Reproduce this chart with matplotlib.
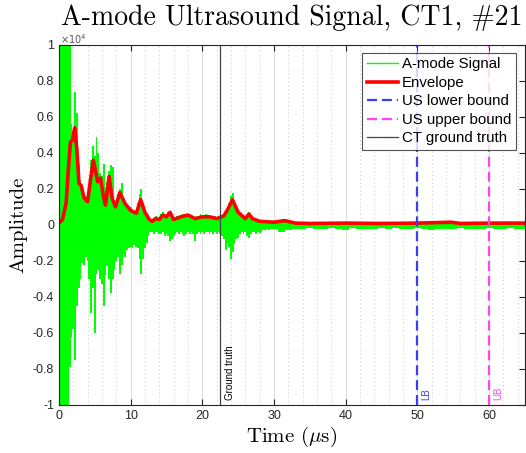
import numpy as np
import matplotlib
matplotlib.use("Agg")
import matplotlib.pyplot as plt

plt.rcParams['mathtext.fontset'] = 'cm'
plt.rcParams['font.family'] = ['Liberation Sans', 'DejaVu Sans']

# A-mode signal, upper / lower extents of the trace (x1e4)
# early part: every 0.25 us from 0 to 30 us
sig_up_early = [
    0.05, 1.2, 1.2, 1.2, 1.2, 1.2, 1.2, 0.56, 0.52, 0.74,
    0.62, 0.34, 0.25, 0.22, 0.17, 0.16, 0.15, 0.22, 0.36, 0.44,
    0.38, 0.49, 0.40, 0.29, 0.27, 0.34, 0.21, 0.24, 0.30, 0.33,
    0.32, 0.14, 0.13, 0.17, 0.20, 0.23, 0.14, 0.13, 0.11, 0.10,
    0.10, 0.09, 0.08, 0.08, 0.12, 0.17, 0.20, 0.12, 0.08, 0.06,
    0.04, 0.03, 0.03, 0.04, 0.05, 0.04, 0.04, 0.06, 0.07, 0.05,
    0.05, 0.07, 0.08, 0.05, 0.04, 0.04, 0.05, 0.05, 0.05, 0.06,
    0.06, 0.06, 0.06, 0.05, 0.05, 0.04, 0.04, 0.05, 0.05, 0.06,
    0.05, 0.05, 0.06, 0.05, 0.05, 0.05, 0.04, 0.05, 0.04, 0.04,
    0.05, 0.05, 0.06, 0.07, 0.09, 0.12, 0.16, 0.18, 0.12, 0.10,
    0.08, 0.06, 0.05, 0.04, 0.04, 0.05, 0.07, 0.05, 0.04, 0.04,
    0.03, 0.03, 0.03, 0.025, 0.02, 0.02, 0.02, 0.02, 0.02, 0.02,
    0.015,
]
sig_lo_early = [
    -0.05, -1.2, -1.2, -1.2, -1.2, -1.2, -0.79, -0.62, -0.58, -0.75,
    -0.45, -0.35, -0.30, -0.21, -0.22, -0.18, -0.20, -0.30, -0.49, -0.35,
    -0.60, -0.27, -0.25, -0.30, -0.33, -0.45, -0.28, -0.23, -0.30, -0.38,
    -0.30, -0.25, -0.20, -0.18, -0.27, -0.22, -0.16, -0.18, -0.14, -0.13,
    -0.12, -0.13, -0.11, -0.12, -0.13, -0.19, -0.27, -0.19, -0.13, -0.10,
    -0.06, -0.04, -0.04, -0.05, -0.04, -0.04, -0.05, -0.05, -0.04, -0.06,
    -0.05, -0.06, -0.09, -0.08, -0.06, -0.05, -0.04, -0.05, -0.04, -0.05,
    -0.06, -0.05, -0.04, -0.05, -0.04, -0.05, -0.09, -0.05, -0.04, -0.05,
    -0.04, -0.05, -0.04, -0.04, -0.05, -0.04, -0.05, -0.04, -0.05, -0.04,
    -0.05, -0.06, -0.08, -0.14, -0.10, -0.12, -0.19, -0.15, -0.10, -0.08,
    -0.07, -0.05, -0.04, -0.05, -0.04, -0.06, -0.07, -0.05, -0.04, -0.04,
    -0.05, -0.04, -0.045, -0.04, -0.03, -0.03, -0.025, -0.03, -0.025, -0.02,
    -0.02,
]
# tail: every 1 us from 31 to 65 us
sig_up_tail = [
    0.02, 0.02, 0.012, 0.01, 0.008, 0.01, 0.008, 0.008, 0.01, 0.008,
    0.008, 0.01, 0.008, 0.01, 0.008, 0.008, 0.01, 0.008, 0.01, 0.008,
    0.01, 0.008, 0.01, 0.012, 0.01, 0.008, 0.008, 0.01, 0.008, 0.01,
    0.008, 0.01, 0.008, 0.01, 0.01,
]
sig_lo_tail = [
    -0.04, -0.03, -0.02, -0.02, -0.018, -0.02, -0.025, -0.018, -0.02, -0.03,
    -0.018, -0.02, -0.02, -0.025, -0.018, -0.02, -0.018, -0.025, -0.02, -0.018,
    -0.02, -0.03, -0.02, -0.02, -0.025, -0.018, -0.02, -0.02, -0.025, -0.018,
    -0.02, -0.025, -0.018, -0.02, -0.02,
]
t_early = np.arange(len(sig_up_early)) * 0.25
t_tail = 31 + np.arange(len(sig_up_tail)) * 1.0

# envelope (x1e4)
env_t = [0, 0.5, 1.0, 1.3, 1.6, 1.9, 2.2, 2.5, 2.8, 3.1, 3.5, 4.0, 4.4, 4.8,
         5.1, 5.4, 5.8, 6.2, 6.5, 7.0, 7.4, 7.9, 8.5, 9.2, 10.0, 10.8, 11.4,
         12.0, 12.6, 13.0, 13.5, 14.0, 14.5, 15.0, 15.5, 16.0, 17.0, 18.0,
         19.0, 20.0, 21.0, 22.0, 23.0, 23.6, 24.2, 25.0, 26.0, 26.5, 27.0,
         28.0, 30.0, 31.5, 33.0, 35.0, 40.0, 45.0, 50.0, 54.7, 56.0, 60.0, 65.0]
env_v = [0.01, 0.03, 0.12, 0.30, 0.46, 0.47, 0.54, 0.42, 0.23, 0.22, 0.15,
         0.13, 0.25, 0.36, 0.30, 0.24, 0.26, 0.16, 0.11, 0.27, 0.15, 0.10,
         0.18, 0.12, 0.08, 0.065, 0.14, 0.07, 0.03, 0.02, 0.035, 0.03, 0.055,
         0.045, 0.07, 0.03, 0.045, 0.055, 0.035, 0.045, 0.045, 0.035, 0.05,
         0.09, 0.14, 0.07, 0.035, 0.06, 0.035, 0.02, 0.015, 0.024, 0.01,
         0.008, 0.01, 0.008, 0.01, 0.015, 0.008, 0.01, 0.01]

ct_truth = 22.5
us_lower = 50
us_upper = 60

yticks = [-1, -0.8, -0.6, -0.4, -0.2, 0, 0.2, 0.4, 0.6, 0.8, 1]
ytick_labels = ['-1', '-0.8', '-0.6', '-0.4', '-0.2', '0', '0.2', '0.4', '0.6', '0.8', '1']
xticks = [0, 10, 20, 30, 40, 50, 60]

dark = '#262626'
green = '#00ff00'
blue = '#3d3df5'
magenta = '#ff44ee'

fig = plt.figure(figsize=(5.26, 4.53), dpi=100)
ax = fig.add_axes([0.112, 0.106, 0.886, 0.795])

t_sig = np.concatenate([t_early, t_tail])
sig_up = np.array(sig_up_early + sig_up_tail)
sig_lo = np.array(sig_lo_early + sig_lo_tail)
ax.fill_between(t_sig, sig_lo, sig_up, step='mid', color=green, lw=0)
ax.plot([], [], color=green, lw=1, label='A-mode Signal')
ax.plot(env_t, env_v, color='#ff0000', lw=2.6, label='Envelope')
ax.axvline(us_lower, color=blue, lw=1.6, ls=(0, (4.5, 2.2)), label='US lower bound')
ax.axvline(us_upper, color=magenta, lw=1.6, ls=(0, (4.5, 2.2)), label='US upper bound')
ax.axvline(ct_truth, color='#444444', lw=0.9, label='CT ground truth')

ax.text(ct_truth + 0.6, -0.97, 'Ground truth', rotation=90, fontsize=7, color='black',
        ha='left', va='bottom')
ax.text(us_lower + 0.6, -0.97, 'LB', rotation=90, fontsize=7, color=blue,
        ha='left', va='bottom')
ax.text(us_upper + 0.6, -0.97, 'UB', rotation=90, fontsize=7, color=magenta,
        ha='left', va='bottom')

ax.set_xlim(0, 65)
ax.set_ylim(-1, 1)
ax.set_xticks(xticks)
ax.set_xticks(np.arange(2, 65, 2), minor=True)
ax.set_yticks(yticks)
ax.set_yticklabels(ytick_labels)
ax.grid(True, which='major', axis='x', color='#dedede', lw=0.8)
ax.grid(True, which='minor', axis='x', color='#c8c8c8', lw=0.7, ls=(0, (1, 3)))
ax.set_axisbelow(True)
ax.tick_params(which='both', direction='in', top=True, right=True, labelsize=9,
               colors=dark, length=4)
ax.tick_params(which='minor', length=0)
for s in ax.spines.values():
    s.set_color(dark)
    s.set_linewidth(0.8)

ax.text(0.003, 0.998, r'$\times10^{4}$', transform=ax.transAxes, fontsize=7,
        color='#555555', ha='left', va='bottom', math_fontfamily='dejavusans')

ax.set_title('A-mode Ultrasound Signal, CT1, #21', fontfamily='cmr10', fontsize=20, pad=14)
ax.set_xlabel(r'Time ($\mu$s)', fontfamily='cmr10', fontsize=15, labelpad=2)
ax.set_ylabel('Amplitude', fontfamily='cmr10', fontsize=15, labelpad=4)

leg = ax.legend(loc='upper right', bbox_to_anchor=(1 - 9 / 466, 1 - 8 / 360),
                borderaxespad=0, fontsize=10.8, frameon=True, fancybox=False,
                handlelength=2.1, handletextpad=0.27, labelspacing=0.3,
                borderpad=0.3)
leg.get_frame().set_edgecolor(dark)
leg.get_frame().set_linewidth(0.8)

fig.savefig('out.png', dpi=100)
